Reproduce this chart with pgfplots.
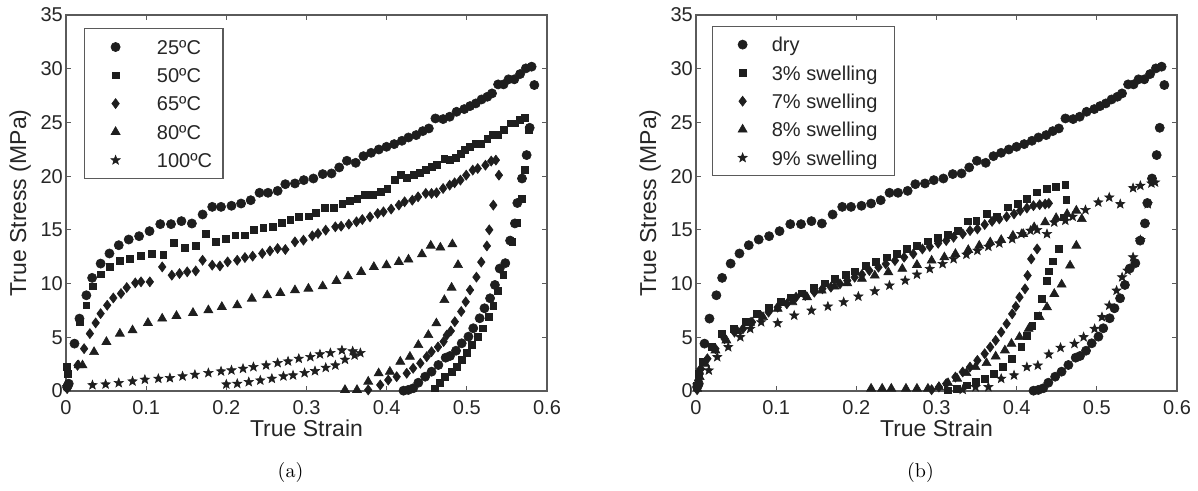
\documentclass[border=0pt]{standalone}
\usepackage{fontspec}
\newfontfamily\arial{Liberation Sans}
\usepackage{pgfplots}
\usepackage{pgfplotstable}
\pgfplotsset{compat=1.18}
\definecolor{mk}{HTML}{1E1E1E}
\definecolor{ax}{HTML}{5A5A5A}

\pgfdeclareplotmark{fstar}{%
  \pgfpathmoveto{\pgfpointpolar{90}{\pgfplotmarksize}}%
  \pgfpathlineto{\pgfpointpolar{126}{0.42\pgfplotmarksize}}%
  \pgfpathlineto{\pgfpointpolar{162}{\pgfplotmarksize}}%
  \pgfpathlineto{\pgfpointpolar{198}{0.42\pgfplotmarksize}}%
  \pgfpathlineto{\pgfpointpolar{234}{\pgfplotmarksize}}%
  \pgfpathlineto{\pgfpointpolar{270}{0.42\pgfplotmarksize}}%
  \pgfpathlineto{\pgfpointpolar{306}{\pgfplotmarksize}}%
  \pgfpathlineto{\pgfpointpolar{342}{0.42\pgfplotmarksize}}%
  \pgfpathlineto{\pgfpointpolar{18}{\pgfplotmarksize}}%
  \pgfpathlineto{\pgfpointpolar{54}{0.42\pgfplotmarksize}}%
  \pgfpathclose
  \pgfusepathqfillstroke}

% ---------- data ----------
\pgfplotstableread{
x y
0.0014 0.37
0.0024 0.53
0.0034 0.68
0.0106 4.41
0.0168 6.74
0.0254 8.91
0.0326 10.53
0.0432 11.86
0.0542 12.80
0.0658 13.57
0.0782 14.10
0.0912 14.41
0.1042 14.88
0.1176 15.53
0.1310 15.53
0.1440 15.81
0.1570 15.59
0.1704 16.43
0.1824 17.14
0.1934 17.14
0.2064 17.24
0.2184 17.45
0.2304 17.76
0.2414 18.45
0.2520 18.45
0.2640 18.63
0.2736 19.25
0.2856 19.32
0.2966 19.63
0.3086 19.78
0.3202 20.19
0.3312 20.25
0.3408 20.81
0.3504 21.43
0.3614 21.24
0.3710 21.86
0.3806 22.17
0.3902 22.48
0.3998 22.73
0.4094 22.98
0.4190 23.29
0.4272 23.60
0.4368 23.82
0.4450 24.19
0.4526 24.44
0.4608 25.37
0.4704 25.31
0.4786 25.53
0.4872 25.99
0.4968 26.24
0.5040 26.52
0.5112 26.77
0.5184 27.14
0.5256 27.39
0.5314 27.70
0.5390 28.54
0.5458 28.54
0.5520 29.01
0.5592 29.01
0.5664 29.50
0.5736 30.03
0.5808 30.19
0.5842 28.48
0.5784 24.50
0.5746 21.96
0.5688 19.78
0.5630 17.50
0.5600 15.60
0.5540 14.00
0.5480 11.90
0.5410 11.40
0.5350 9.87
0.5290 8.63
0.5220 7.70
0.5160 6.77
0.5080 5.84
0.5020 5.06
0.4936 4.44
0.4865 3.75
0.4790 3.26
0.4736 3.10
0.4645 2.42
0.4560 1.80
0.4480 1.33
0.4395 0.77
0.4330 0.25
0.4270 0.10
0.4210 0.03
}\tblA

\pgfplotstableread{
x y
0.0014 2.24
0.0024 1.61
0.0168 6.43
0.0254 7.98
0.0336 9.75
0.0432 10.87
0.0542 11.55
0.0672 12.11
0.0792 12.27
0.0936 12.58
0.1070 12.80
0.1214 12.70
0.1344 13.79
0.1478 13.35
0.1618 13.51
0.1742 14.66
0.1872 13.88
0.1992 14.19
0.2112 14.50
0.2232 14.50
0.2338 14.97
0.2462 15.19
0.2578 15.28
0.2688 15.65
0.2798 15.96
0.2904 16.21
0.3024 16.27
0.3120 16.61
0.3230 17.08
0.3336 17.08
0.3446 17.39
0.3538 17.67
0.3634 17.92
0.3730 18.23
0.3826 18.29
0.3922 18.54
0.4008 18.85
0.4104 19.63
0.4176 20.09
0.4248 19.88
0.4334 20.09
0.4416 20.34
0.4488 20.56
0.4560 20.87
0.4622 21.09
0.4718 21.65
0.4786 21.55
0.4862 21.74
0.4920 22.05
0.4978 22.42
0.5040 22.73
0.5112 22.98
0.5170 22.98
0.5256 23.51
0.5328 23.82
0.5390 23.82
0.5458 24.29
0.5544 24.91
0.5602 24.91
0.5664 25.22
0.5726 25.43
0.5774 24.29
0.5726 20.56
0.5688 17.92
0.5630 15.65
0.5568 13.88
0.5455 10.80
0.5385 9.34
0.5330 7.91
0.5270 6.92
0.5200 5.84
0.5140 5.06
0.5060 4.28
0.4998 3.57
0.4940 2.89
0.4870 2.26
0.4810 1.80
0.4730 1.33
0.4665 0.77
0.4600 0.25
}\tblB

\pgfplotstableread{
x y
0.0014 0.22
0.0144 2.39
0.0226 3.94
0.0298 5.34
0.0370 6.34
0.0432 7.20
0.0514 7.98
0.0590 8.66
0.0686 9.07
0.0758 9.63
0.0864 10.06
0.0936 10.16
0.1046 10.16
0.1200 11.55
0.1320 10.78
0.1416 10.93
0.1512 11.09
0.1618 11.18
0.1704 12.17
0.1824 11.71
0.1920 11.64
0.2016 12.02
0.2136 12.17
0.2232 12.42
0.2328 12.55
0.2448 12.80
0.2544 13.04
0.2640 13.26
0.2736 13.17
0.2856 13.88
0.2962 14.04
0.3072 14.44
0.3144 14.66
0.3240 14.97
0.3360 15.28
0.3432 15.34
0.3528 15.53
0.3624 15.75
0.3696 15.96
0.3792 16.21
0.3888 16.52
0.3960 16.68
0.4056 16.93
0.4152 17.30
0.4224 17.61
0.4320 17.76
0.4392 18.07
0.4488 18.39
0.4560 18.39
0.4622 18.45
0.4704 18.85
0.4786 19.16
0.4848 19.38
0.4920 19.63
0.4992 20.09
0.5074 20.56
0.5136 20.71
0.5232 21.02
0.5304 21.40
0.5362 21.49
0.5400 20.09
0.5330 17.30
0.5280 15.00
0.5250 13.50
0.5180 12.00
0.5120 10.60
0.5040 9.40
0.4986 8.30
0.4930 7.40
0.4850 6.45
0.4800 5.59
0.4750 5.20
0.4710 4.60
0.4640 4.10
0.4560 3.66
0.4500 3.19
0.4420 2.58
0.4330 2.11
0.4250 1.65
0.4125 1.33
0.4020 1.02
0.3920 0.56
0.3770 0.10
}\tblC

\pgfplotstableread{
x y
0.0158 2.39
0.0206 2.39
0.0350 3.63
0.0504 4.57
0.0672 5.34
0.0830 5.65
0.1022 6.34
0.1200 6.74
0.1378 6.99
0.1584 7.27
0.1776 7.52
0.1944 7.83
0.2136 7.98
0.2318 8.60
0.2510 8.91
0.2674 9.13
0.2856 9.38
0.3024 9.53
0.3202 9.75
0.3374 10.25
0.3518 10.68
0.3682 11.09
0.3840 11.55
0.3998 11.71
0.4152 12.02
0.4272 12.24
0.4440 12.73
0.4550 13.53
0.4670 13.35
0.4820 13.66
0.4890 11.73
0.4810 9.62
0.4720 8.47
0.4620 6.30
0.4520 5.21
0.4395 4.28
0.4290 3.19
0.4170 2.73
0.4040 1.80
0.3900 1.65
0.3770 0.87
0.3630 0.10
0.3480 0.10
}\tblD

\pgfplotstableread{
x y
0.0014 0.37
0.0330 0.55
0.0494 0.62
0.0658 0.75
0.0830 0.90
0.0984 1.06
0.1152 1.15
0.1296 1.21
0.1454 1.37
0.1608 1.52
0.1776 1.68
0.1934 1.83
0.2064 1.93
0.2208 2.08
0.2338 2.24
0.2496 2.39
0.2640 2.61
0.2770 2.76
0.2904 3.01
0.3048 3.17
0.3168 3.42
0.3298 3.54
0.3442 3.79
0.3576 3.70
0.3672 3.54
0.3600 3.32
0.3480 2.92
0.3360 2.39
0.3240 2.17
0.3106 1.86
0.2976 1.68
0.2832 1.46
0.2712 1.37
0.2568 1.15
0.2424 0.99
0.2280 0.84
0.2136 0.68
0.2000 0.62
}\tblE

\pgfplotstableread{
x y
0.0014 0.53
0.0037 1.61
0.0082 2.69
0.0197 4.09
0.0324 5.33
0.0471 5.79
0.0622 6.41
0.0754 7.18
0.0905 7.74
0.1056 8.27
0.1179 8.73
0.1316 9.10
0.1467 9.60
0.1604 10.03
0.1727 10.44
0.1865 10.84
0.1979 11.15
0.2116 11.68
0.2244 11.99
0.2381 12.45
0.2504 12.76
0.2628 13.22
0.2756 13.53
0.2893 13.94
0.3021 14.25
0.3144 14.56
0.3268 14.93
0.3386 15.79
0.3496 15.86
0.3624 16.48
0.3752 16.23
0.3889 17.10
0.4012 17.40
0.4127 17.87
0.4255 18.49
0.4378 18.80
0.4483 19.02
0.4607 19.20
0.4620 17.78
0.4584 16.17
0.4529 13.22
0.4447 12.08
0.4401 11.15
0.4378 10.28
0.4310 8.58
0.4264 7.03
0.4195 6.10
0.4127 5.17
0.4058 4.09
0.3944 3.00
0.3830 2.23
0.3715 1.61
0.3601 1.15
0.3487 0.84
0.3373 0.53
0.3258 0.22
0.3144 0.06
}\tblF

\pgfplotstableread{
x y
0.0014 0.12
0.0027 0.99
0.0059 2.07
0.0142 3.00
0.0242 3.93
0.0356 4.86
0.0480 5.48
0.0585 5.79
0.0699 6.41
0.0813 6.94
0.0905 7.34
0.1019 7.80
0.1133 8.11
0.1248 8.73
0.1362 8.89
0.1476 9.20
0.1577 9.51
0.1682 9.66
0.1796 9.97
0.1887 10.28
0.1979 10.59
0.2070 10.84
0.2162 11.21
0.2276 11.52
0.2367 11.83
0.2482 12.14
0.2596 12.45
0.2710 12.76
0.2824 13.22
0.2916 13.44
0.3021 13.75
0.3121 14.00
0.3213 14.31
0.3327 14.62
0.3418 14.93
0.3510 15.08
0.3601 15.49
0.3693 15.79
0.3784 16.01
0.3875 16.23
0.3967 16.48
0.4044 16.79
0.4127 17.03
0.4209 17.25
0.4287 17.34
0.4355 17.40
0.4401 17.47
0.4255 13.22
0.4182 12.29
0.4136 10.75
0.4104 9.51
0.4035 8.73
0.3990 7.87
0.3944 7.18
0.3875 6.26
0.3807 5.48
0.3738 4.71
0.3670 4.09
0.3601 3.47
0.3510 2.85
0.3418 2.23
0.3327 1.77
0.3236 1.30
0.3121 0.68
0.3030 0.37
0.2939 0.12
}\tblG

\pgfplotstableread{
x y
0.0014 0.22
0.0046 1.30
0.0114 2.54
0.0242 3.78
0.0379 4.71
0.0516 5.57
0.0676 6.35
0.0836 6.88
0.1019 7.65
0.1202 8.27
0.1385 8.73
0.1568 9.35
0.1727 9.72
0.1887 10.03
0.2070 10.44
0.2230 10.75
0.2399 11.06
0.2573 11.37
0.2756 11.74
0.2939 12.14
0.3098 12.45
0.3236 12.76
0.3396 13.13
0.3533 13.53
0.3670 13.84
0.3807 14.06
0.3953 14.46
0.4081 14.62
0.4218 15.24
0.4355 15.70
0.4492 16.10
0.4629 16.48
0.4744 16.79
0.4812 16.01
0.4744 13.53
0.4666 11.68
0.4561 9.91
0.4469 9.04
0.4378 7.80
0.4287 6.88
0.4150 5.79
0.4035 5.02
0.3935 4.40
0.3853 3.78
0.3738 3.22
0.3624 2.60
0.3487 2.23
0.3373 1.67
0.3258 1.15
0.3144 0.74
0.3030 0.37
0.2893 0.22
0.2756 0.22
0.2619 0.22
0.2436 0.22
0.2322 0.22
0.2184 0.22
}\tblH

\pgfplotstableread{
x y
0.0014 0.53
0.0059 1.92
0.0160 1.92
0.0265 3.16
0.0402 4.09
0.0553 5.02
0.0676 5.79
0.0813 6.41
0.1019 6.32
0.1225 7.03
0.1440 7.49
0.1645 7.87
0.1842 8.27
0.2025 8.80
0.2230 9.29
0.2413 9.82
0.2609 10.28
0.2756 10.84
0.2916 11.37
0.3076 11.83
0.3213 12.29
0.3373 12.70
0.3510 13.07
0.3647 13.44
0.3784 13.75
0.3944 14.15
0.4058 14.62
0.4172 14.93
0.4255 14.99
0.4378 14.62
0.4469 15.70
0.4607 15.86
0.4698 16.23
0.4858 16.85
0.5018 17.56
0.5155 18.02
0.5292 17.40
0.5452 18.89
0.5543 19.11
0.5681 19.33
0.5726 19.42
0.5635 17.40
0.5543 14.06
0.5452 12.45
0.5383 11.21
0.5315 10.59
0.5246 9.35
0.5155 7.96
0.5064 6.88
0.4972 5.79
0.4835 5.02
0.4721 4.40
0.4547 4.03
0.4401 3.41
0.4264 2.38
0.4127 2.23
0.3967 1.46
0.3807 1.15
0.3647 0.37
0.3487 0.37
0.3327 0.12
}\tblI

\pgfplotsset{
  mystyle/.style={
    scale only axis, width=240.5pt, height=188pt,
    xmin=0, xmax=0.6, ymin=0, ymax=35,
    xtick={0,0.1,0.2,0.3,0.4,0.5,0.6},
    xticklabels={0,0.1,0.2,0.3,0.4,0.5,0.6},
    ytick={0,5,10,15,20,25,30,35},
    tick align=inside, major tick length=2.5pt,
    axis line style={ax, line width=0.6pt},
    tick style={ax, line width=0.6pt},
    /pgf/number format/assume math mode=true,
    every tick label/.append style={font=\arial\fontsize{10}{12}\selectfont, text=black!85},
    xticklabel style={anchor=north, inner sep=0pt, yshift=-4.5pt},
    yticklabel style={anchor=east, inner sep=0pt, xshift=-1.4pt},
    xlabel={True Strain}, ylabel={True Stress (MPa)},
    every axis x label/.style={at={(axis description cs:0.5,-0.099)}, anchor=center, font=\arial\fontsize{11.5}{13}\selectfont, text=black!85},
    every axis y label/.style={at={(axis description cs:-0.0952,0.5)}, anchor=center, rotate=90, font=\arial\fontsize{11.5}{13}\selectfont, text=black!85},
    clip=false,
    legend cell align=left,
  },
  m1/.style={only marks, mark=*, mark size=2.3pt, mk, mark options={fill=mk, draw=mk, line width=0.3pt}},
  m2/.style={only marks, mark=square*, mark size=1.7pt, mk, mark options={fill=mk, draw=mk, line width=0.3pt}},
  m3/.style={only marks, mark=diamond*, mark size=2.5pt, mk, mark options={fill=mk, draw=mk, line width=0.3pt}},
  m4/.style={only marks, mark=triangle*, mark size=2.6pt, mk, mark options={fill=mk, draw=mk, line width=0.3pt}},
  m5/.style={only marks, mark=fstar, mark size=2.4pt, mk, mark options={fill=mk, draw=mk, line width=0.3pt}},
}

\begin{document}
\begin{tikzpicture}
\useasboundingbox (0,0) rectangle (599pt,245.5pt);

\begin{axis}[mystyle, at={(33pt,50pt)}, anchor=south west,
  legend style={at={(axis description cs:0.0374,0.9654)}, anchor=north west,
    draw=ax, line width=0.6pt, fill=white, inner xsep=5.4pt, inner ysep=5.6pt,
    row sep=6.95pt, column sep=10.6pt, font=\arial\fontsize{10}{12}\selectfont, text=black!85,
    nodes={inner sep=0pt, text height=7.2pt, text depth=0pt}},
  legend image code/.code={\path[draw=none,fill=none] (0pt,-1pt) rectangle (20.2pt,1pt); \draw[#1] plot coordinates {(10.1pt,0pt)};},
]
\addplot[m1] table {\tblA};
\addplot[m2] table {\tblB};
\addplot[m3] table {\tblC};
\addplot[m4] table {\tblD};
\addplot[m5] table {\tblE};
\legend{25ºC,50ºC,65ºC,80ºC,100ºC}
\end{axis}

\begin{axis}[mystyle, at={(348pt,50pt)}, anchor=south west,
  legend style={at={(axis description cs:0.0333,0.9707)}, anchor=north west,
    draw=ax, line width=0.6pt, fill=white, inner xsep=8.7pt, inner ysep=5.4pt,
    row sep=6.95pt, column sep=8.3pt, font=\arial\fontsize{10}{12}\selectfont, text=black!85,
    nodes={inner sep=0pt, text height=7.2pt, text depth=0pt}},
  legend image code/.code={\path[draw=none,fill=none] (0pt,-1pt) rectangle (12.6pt,1pt); \draw[#1] plot coordinates {(6.3pt,0pt)};},
]
\addplot[m1] table {\tblA};
\addplot[m2] table {\tblF};
\addplot[m3] table {\tblG};
\addplot[m4] table {\tblH};
\addplot[m5] table {\tblI};
\legend{dry,3\% swelling,7\% swelling,8\% swelling,9\% swelling}
\end{axis}

\node[font=\fontsize{10}{12}\selectfont] at (145.25pt,9pt) {(a)};
\node[font=\fontsize{10}{12}\selectfont] at (460.25pt,9pt) {(b)};
\end{tikzpicture}
\end{document}
